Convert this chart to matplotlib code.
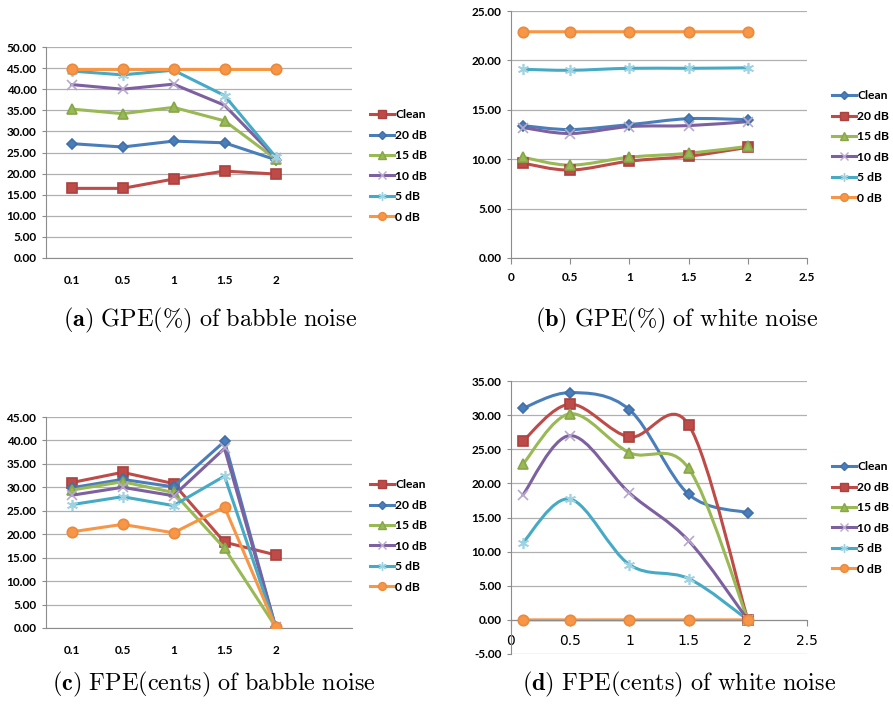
import matplotlib
matplotlib.use('Agg')
import matplotlib.pyplot as plt
import numpy as np
from matplotlib.path import Path
from matplotlib.patches import PathPatch
from matplotlib.lines import Line2D

plt.rcParams['mathtext.fontset'] = 'cm'

# ---------------- data ----------------
series_names = ['Clean', '20 dB', '15 dB', '10 dB', '5 dB', '0 dB']
cat_labels = ['0.1', '0.5', '1', '1.5', '2']
x_values = [0.1, 0.5, 1.0, 1.5, 2.0]

gpe_babble = {
    'Clean': [16.5, 16.5, 18.7, 20.6, 19.9],
    '20 dB': [27.1, 26.3, 27.7, 27.3, 23.3],
    '15 dB': [35.3, 34.2, 35.7, 32.5, 23.5],
    '10 dB': [41.1, 40.0, 41.2, 36.2, 23.8],
    '5 dB':  [44.3, 43.4, 44.5, 38.5, 24.0],
    '0 dB':  [44.8, 44.8, 44.8, 44.8, 44.8],
}
gpe_white = {
    'Clean': [13.4, 13.0, 13.5, 14.1, 14.0],
    '20 dB': [9.6, 8.9, 9.8, 10.3, 11.2],
    '15 dB': [10.2, 9.4, 10.2, 10.6, 11.3],
    '10 dB': [13.2, 12.6, 13.3, 13.4, 13.8],
    '5 dB':  [19.1, 19.0, 19.2, 19.2, 19.25],
    '0 dB':  [22.9, 22.9, 22.9, 22.9, 22.9],
}
fpe_babble = {
    'Clean': [31.0, 33.2, 30.8, 18.3, 15.6],
    '20 dB': [29.9, 31.7, 30.1, 39.8, 0.3],
    '15 dB': [29.4, 31.2, 28.9, 17.0, 0.3],
    '10 dB': [28.3, 30.0, 28.2, 38.3, 0.3],
    '5 dB':  [26.3, 28.0, 26.1, 32.4, 0.3],
    '0 dB':  [20.5, 22.1, 20.3, 25.8, 0.3],
}
fpe_white = {
    'Clean': [31.0, 33.3, 30.8, 18.4, 15.7],
    '20 dB': [26.2, 31.6, 26.8, 28.6, 0.0],
    '15 dB': [22.8, 30.2, 24.5, 22.2, 0.0],
    '10 dB': [18.3, 27.0, 18.6, 11.6, 0.0],
    '5 dB':  [11.3, 17.7, 8.1, 6.05, 0.0],
    '0 dB':  [0.0, 0.0, 0.0, 0.0, 0.0],
}

# ---------------- styles ----------------
BLUE, RED, GREEN, PURPLE, AQUA, ORANGE = '#4A7EBB', '#BE4B48', '#98B954', '#7D60A0', '#46AAC5', '#F79646'
STAR = (6, 2, 0)
style_babble = {
    'Clean': dict(color=RED, marker='s', ms=7, mfc=RED, mec='#a94240'),
    '20 dB': dict(color=BLUE, marker='D', ms=5, mfc=BLUE, mec='#416fa6'),
    '15 dB': dict(color=GREEN, marker='^', ms=7.5, mfc=GREEN, mec='#87a64a'),
    '10 dB': dict(color=PURPLE, marker='x', ms=7, mfc='none', mec='#b7a8cc'),
    '5 dB':  dict(color=AQUA, marker=STAR, ms=8, mfc='none', mec='#9fd3e1'),
    '0 dB':  dict(color=ORANGE, marker='o', ms=7.5, mfc=ORANGE, mec='#ea8a3c'),
}
style_white = dict(style_babble)
style_white['Clean'] = dict(color=BLUE, marker='D', ms=5, mfc=BLUE, mec='#416fa6')
style_white['20 dB'] = dict(color=RED, marker='s', ms=7, mfc=RED, mec='#a94240')

TICKFONT = dict(family='Lato', weight='bold', size=8.5)
GRID = '#b0b0b0'
AXC = '#8c8c8c'
W, H = 893, 706

fig = plt.figure(figsize=(W / 100, H / 100), dpi=100)


def px_axes(left, top, right, bottom):
    return fig.add_axes([left / W, 1 - bottom / H, (right - left) / W, (bottom - top) / H])


def smooth_path(xs, ys):
    pts = np.column_stack([xs, ys]).astype(float)
    n = len(pts)
    verts = [pts[0]]
    codes = [Path.MOVETO]
    for i in range(n - 1):
        p0 = pts[max(i - 1, 0)]
        p1 = pts[i]
        p2 = pts[i + 1]
        p3 = pts[min(i + 2, n - 1)]
        verts += [p1 + (p2 - p0) / 6.0, p2 - (p3 - p1) / 6.0, p2]
        codes += [Path.CURVE4] * 3
    return Path(verts, codes)


def style_axes(ax, yticks):
    ax.set_yticks(yticks)
    ax.set_yticklabels(['%.2f' % v for v in yticks], fontdict=TICKFONT)
    ax.set_ylim(yticks[0], yticks[-1])
    ax.yaxis.grid(True, color=GRID, lw=0.9)
    ax.set_axisbelow(True)
    for s in ['top', 'right']:
        ax.spines[s].set_visible(False)
    ax.spines['left'].set_color(AXC)
    ax.spines['bottom'].set_color(AXC)
    ax.tick_params(axis='y', length=3, color=AXC, pad=4)


def draw(ax, data, xs, styles, smooth):
    for name in series_names:
        st = styles[name]
        ys = data[name]
        if smooth:
            ax.add_patch(PathPatch(smooth_path(xs, ys), fill=False, edgecolor=st['color'],
                                   lw=2.2, capstyle='round', joinstyle='round', zorder=2))
            ax.plot(xs, ys, ls='none', marker=st['marker'], ms=st['ms'], mfc=st['mfc'],
                    mec=st['mec'], mew=1.2, zorder=3)
        else:
            ax.plot(xs, ys, color=st['color'], lw=2.2, marker=st['marker'], ms=st['ms'],
                    mfc=st['mfc'], mec=st['mec'], mew=1.2, zorder=3)


def legend(ax, styles, left, yc):
    handles = [Line2D([], [], color=styles[n]['color'], lw=2.2, marker=styles[n]['marker'],
                      ms=styles[n]['ms'] * 0.75, mfc=styles[n]['mfc'], mec=styles[n]['mec'], mew=1.0)
               for n in series_names]
    ax.legend(handles, series_names, loc='center left', bbox_to_anchor=(left / W, 1 - yc / H),
              bbox_transform=fig.transFigure, frameon=False, borderpad=0, borderaxespad=0,
              handlelength=2.0, handletextpad=0.1, labelspacing=0.78,
              prop=dict(family='Lato', weight='bold', size=8.7))


def cat_axes(ax):
    idx = list(range(len(cat_labels)))
    ax.set_xlim(-0.5, 5.5)
    ax.set_xticks(idx)
    ax.set_xticklabels(cat_labels, fontdict=TICKFONT)
    ax.tick_params(axis='x', length=0, pad=12)
    return idx


def num_axes(ax):
    ticks = [0, 0.5, 1, 1.5, 2, 2.5]
    ax.set_xlim(0, 2.5)
    ax.set_xticks(ticks)
    ax.set_xticklabels(['0', '0.5', '1', '1.5', '2', '2.5'], fontdict=TICKFONT)
    ax.tick_params(axis='x', length=4, color=AXC, pad=6)


# (a)
ax_a = px_axes(46, 47, 352, 258)
style_axes(ax_a, list(np.arange(0, 50.1, 5)))
idx = cat_axes(ax_a)
draw(ax_a, gpe_babble, idx, style_babble, False)
legend(ax_a, style_babble, 370, 166)

# (b)
ax_b = px_axes(511, 11, 807, 258)
style_axes(ax_b, list(np.arange(0, 25.1, 5)))
num_axes(ax_b)
draw(ax_b, gpe_white, x_values, style_white, True)
legend(ax_b, style_white, 832, 147)

# (c)
ax_c = px_axes(46, 417, 352, 628)
style_axes(ax_c, list(np.arange(0, 45.1, 5)))
idx = cat_axes(ax_c)
draw(ax_c, fpe_babble, idx, style_babble, False)
legend(ax_c, style_babble, 370, 536)

# (d)
ax_d = px_axes(511, 381, 807, 654)
style_axes(ax_d, list(np.arange(-5, 35.1, 5)))
num_axes(ax_d)
ax_d.spines['bottom'].set_position(('data', 0))
draw(ax_d, fpe_white, x_values, style_white, True)
legend(ax_d, style_white, 832, 518)

# captions
caps = [
    (210, 320, r'$\mathbf{(a)}\ \mathrm{GPE(\%)\ of\ babble\ noise}$'),
    (677, 320, r'$\mathbf{(b)}\ \mathrm{GPE(\%)\ of\ white\ noise}$'),
    (214, 684, r'$\mathbf{(c)}\ \mathrm{FPE(cents)\ of\ babble\ noise}$'),
    (679, 684, r'$\mathbf{(d)}\ \mathrm{FPE(cents)\ of\ white\ noise}$'),
]
for x, y, t in caps:
    fig.text(x / W, 1 - y / H, t, ha='center', va='center', fontsize=17.5)

fig.savefig('out.png', dpi=100)
